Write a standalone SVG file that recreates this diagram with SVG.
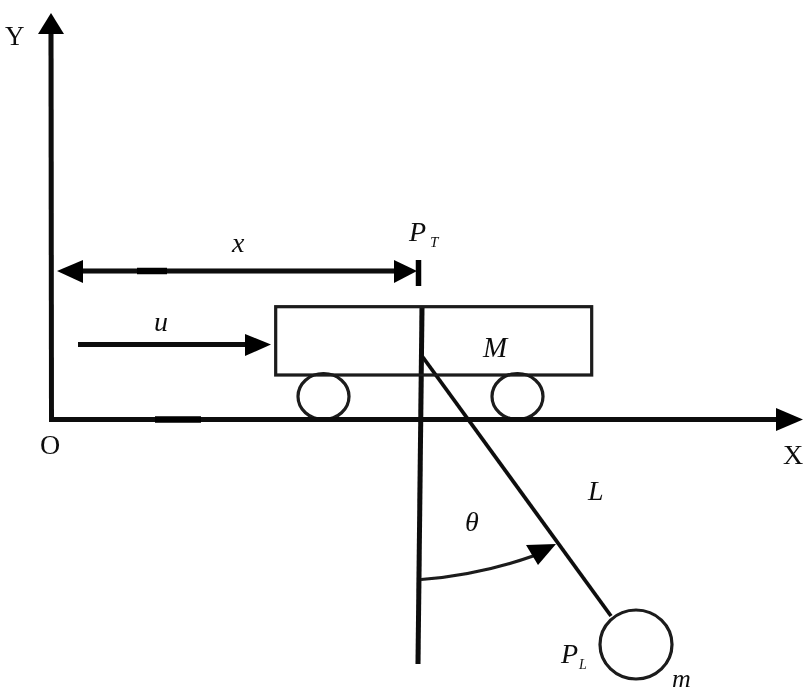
<svg xmlns="http://www.w3.org/2000/svg" width="806" height="693" viewBox="0 0 806 693">
<defs><filter id="soft" x="-5%" y="-5%" width="110%" height="110%"><feGaussianBlur stdDeviation="0.5"/></filter></defs>
<style>
.l{fill:none;stroke:#0a0a0a;stroke-width:5}
.b{fill:none;stroke:#000;stroke-width:6.500}
.t{fill:none;stroke:#1a1a1a;stroke-width:3.200}
.h{fill:#000}
g{filter:url(#soft)}
text{font-family:"Liberation Serif",serif;fill:#111;font-size:28px}
.i{font-style:italic}
</style>
<rect width="806" height="693" fill="#fff"/>
<g id="wheel-left"><ellipse class="t" cx="323.500" cy="396.500" rx="25.500" ry="23"/></g>
<g id="wheel-right"><ellipse class="t" cx="517.500" cy="396.500" rx="25.500" ry="23"/></g>
<g id="connectors">
<line class="l" x1="51.500" y1="421" x2="51" y2="30"/><polygon class="h" points="51,13 38,34 64,34"/>
<line class="l" x1="49" y1="419.500" x2="780" y2="419.500"/><polygon class="h" points="803,419.500 776,408 776,431"/>
<line class="b" x1="155" y1="419.500" x2="201" y2="419.500"/>
<line class="l" x1="75" y1="271" x2="400" y2="271"/><polygon class="h" points="57,271 83,260 83,283"/><polygon class="h" points="417,271 394,260 394,283"/>
<line class="b" x1="137" y1="271" x2="167" y2="271"/>
<line x1="418.500" y1="260" x2="418.500" y2="286" stroke="#000" stroke-width="5.500"/>
<line class="l" x1="78" y1="344.500" x2="250" y2="344.500"/><polygon class="h" points="271,344.500 245,334 245,356"/>
<line x1="422" y1="307" x2="418" y2="664" class="l"/>
<line x1="422" y1="356" x2="611" y2="616" stroke="#111" stroke-width="3.800"/>
<path d="M421 579.500Q480 575 536 555" class="t"/><polygon class="h" points="526,545 556,544 538,565"/>
</g>
<g id="cart"><rect class="t" x="275.700" y="306.700" width="316" height="68.300"/></g>
<g id="bob"><ellipse class="t" cx="636" cy="644.500" rx="36" ry="34.500"/></g>
<g id="labels">
<text x="5" y="45" style="font-size:27px">Y</text>
<text x="40" y="454">O</text>
<text x="783" y="464">X</text>
<text class="i" x="232" y="252">x</text>
<text class="i" x="154" y="331">u</text>
<text class="i" x="409" y="241">P</text><text class="i" x="430" y="247" style="font-size:15px">T</text>
<text class="i" x="483" y="357" style="font-size:29px">M</text>
<text class="i" x="588" y="500">L</text>
<text class="i" x="465" y="531">θ</text>
<text class="i" x="561" y="663">P</text><text class="i" x="579" y="669" style="font-size:14px">L</text>
<text class="i" x="672" y="687" style="font-size:26px">m</text>
</g>
</svg>
